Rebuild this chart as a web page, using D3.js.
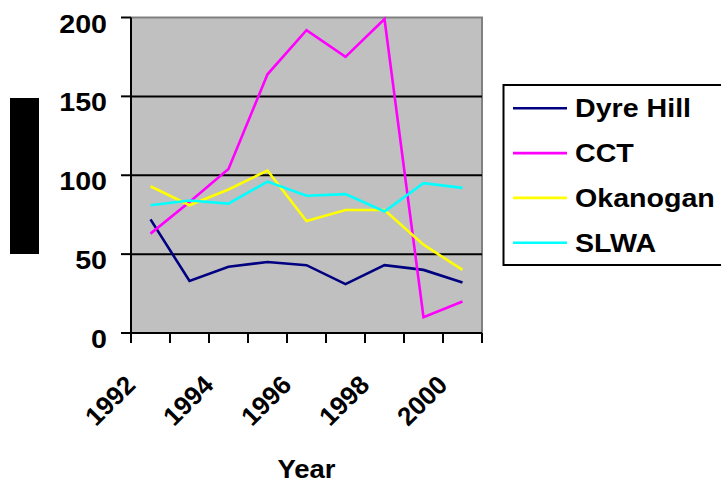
<!DOCTYPE html>
<meta charset="utf-8">
<style>
body { margin: 0; background: #fff; }
svg { font-family: Arial, "Liberation Sans", sans-serif; font-weight: bold; }
</style>
<body>
<script src="https://d3js.org/d3.v7.min.js"></script>
<script>

// chart data
var years = ["1992", "1993", "1994", "1995", "1996", "1997", "1998", "1999", "2000"];
var xLabels = ["1992", "1994", "1996", "1998", "2000"];
var yTicks = [0, 50, 100, 150, 200];

var dyreHill = [72, 33, 42, 45, 43, 31, 43, 40, 32];
var cct      = [63, 83, 104, 164, 192, 175, 199, 10, 20];
var okanogan = [93, 81, 91, 103, 71, 78, 78, 56, 40];
var slwa     = [81, 84, 82, 96, 87, 88, 77, 95, 92];

var seriesNames = ["Dyre Hill", "CCT", "Okanogan", "SLWA"];
var seriesColors = ["#000080", "#ff00ff", "#ffff00", "#00ffff"];
var seriesValues = [dyreHill, cct, okanogan, slwa];

// plot box
var plot = {left: 131, right: 482, top: 17.5, bottom: 333};

var svg = d3.select("body").append("svg")
    .attr("width", 721)
    .attr("height", 483);

var x = d3.scaleBand().domain(years).range([plot.left, plot.right]);
var y = d3.scaleLinear().domain([0, 200]).range([plot.bottom, plot.top]);

// gray plot area
svg.append("rect")
    .attr("x", plot.left).attr("y", plot.top)
    .attr("width", plot.right - plot.left)
    .attr("height", plot.bottom - plot.top)
    .attr("fill", "#c0c0c0");

// top and right border
svg.append("path")
    .attr("d", "M" + plot.left + "," + plot.top + "H" + plot.right + "V" + plot.bottom)
    .attr("fill", "none").attr("stroke", "#808080").attr("stroke-width", 2);

// gridlines
svg.selectAll(".grid")
    .data(yTicks.filter(function(d) { return d > 0 && d < 200; }))
  .enter().append("line")
    .attr("x1", plot.left).attr("x2", plot.right)
    .attr("y1", function(d) { return y(d); })
    .attr("y2", function(d) { return y(d); })
    .attr("stroke", "#000").attr("stroke-width", 2);

// y axis with ticks
svg.append("line")
    .attr("x1", plot.left).attr("x2", plot.left)
    .attr("y1", plot.top).attr("y2", plot.bottom)
    .attr("stroke", "#000").attr("stroke-width", 2);

svg.selectAll(".ytick")
    .data(yTicks)
  .enter().append("line")
    .attr("x1", plot.left - 10).attr("x2", plot.left)
    .attr("y1", function(d) { return y(d); })
    .attr("y2", function(d) { return y(d); })
    .attr("stroke", "#000").attr("stroke-width", 2);

svg.selectAll(".ylabel")
    .data(yTicks)
  .enter().append("text")
    .attr("transform", function(d) { return "translate(107," + (y(d) + 6) + ") scale(1.1,1)"; })
    .attr("text-anchor", "end")
    .attr("dy", "0.35em")
    .style("font-size", "26px")
    .text(function(d) { return d; });

// x axis with ticks at category boundaries
svg.append("line")
    .attr("x1", plot.left - 10).attr("x2", plot.right)
    .attr("y1", plot.bottom).attr("y2", plot.bottom)
    .attr("stroke", "#000").attr("stroke-width", 2);

var bounds = years.map(function(d) { return x(d); }).concat([plot.right]);
svg.selectAll(".xtick")
    .data(bounds)
  .enter().append("line")
    .attr("x1", function(d) { return d; })
    .attr("x2", function(d) { return d; })
    .attr("y1", plot.bottom).attr("y2", plot.bottom + 10)
    .attr("stroke", "#000").attr("stroke-width", 2);

svg.selectAll(".xlabel")
    .data(xLabels)
  .enter().append("text")
    .attr("transform", function(d) {
      return "translate(" + (x(d) + x.bandwidth() / 2 - 20) + ",380) rotate(-45)";
    })
    .attr("text-anchor", "end")
    .attr("dy", "0.35em")
    .style("font-size", "26px")
    .text(function(d) { return d; });

svg.append("text")
    .attr("transform", "translate(" + ((plot.left + plot.right) / 2) + ",477.5) scale(1.1,1)")
    .attr("text-anchor", "middle")
    .style("font-size", "25px")
    .text("Year");

// y axis title box
svg.append("rect")
    .attr("x", 10).attr("y", 98)
    .attr("width", 29).attr("height", 156)
    .attr("fill", "#000");

// series lines
var line = d3.line()
    .x(function(d, i) { return x(years[i]) + x.bandwidth() / 2; })
    .y(function(d) { return y(d); });

svg.selectAll(".series")
    .data(seriesValues)
  .enter().append("path")
    .attr("d", line)
    .attr("fill", "none")
    .attr("stroke", function(d, i) { return seriesColors[i]; })
    .attr("stroke-width", 2.6);

// legend
var legend = svg.append("g");
legend.append("rect")
    .attr("x", 503.5).attr("y", 85)
    .attr("width", 240).attr("height", 180)
    .attr("fill", "#fff").attr("stroke", "#000").attr("stroke-width", 2);

var item = legend.selectAll(".item")
    .data(seriesNames)
  .enter().append("g")
    .attr("transform", function(d, i) { return "translate(0," + (108.3 + i * 44.8) + ")"; });

item.append("line")
    .attr("x1", 513).attr("x2", 567)
    .attr("stroke", function(d, i) { return seriesColors[i]; })
    .attr("stroke-width", 2.6);

item.append("text")
    .attr("transform", "translate(575,0) scale(1.1,1)")
    .attr("dy", "0.35em")
    .style("font-size", "26px")
    .text(function(d) { return d; });

</script>
</body>
